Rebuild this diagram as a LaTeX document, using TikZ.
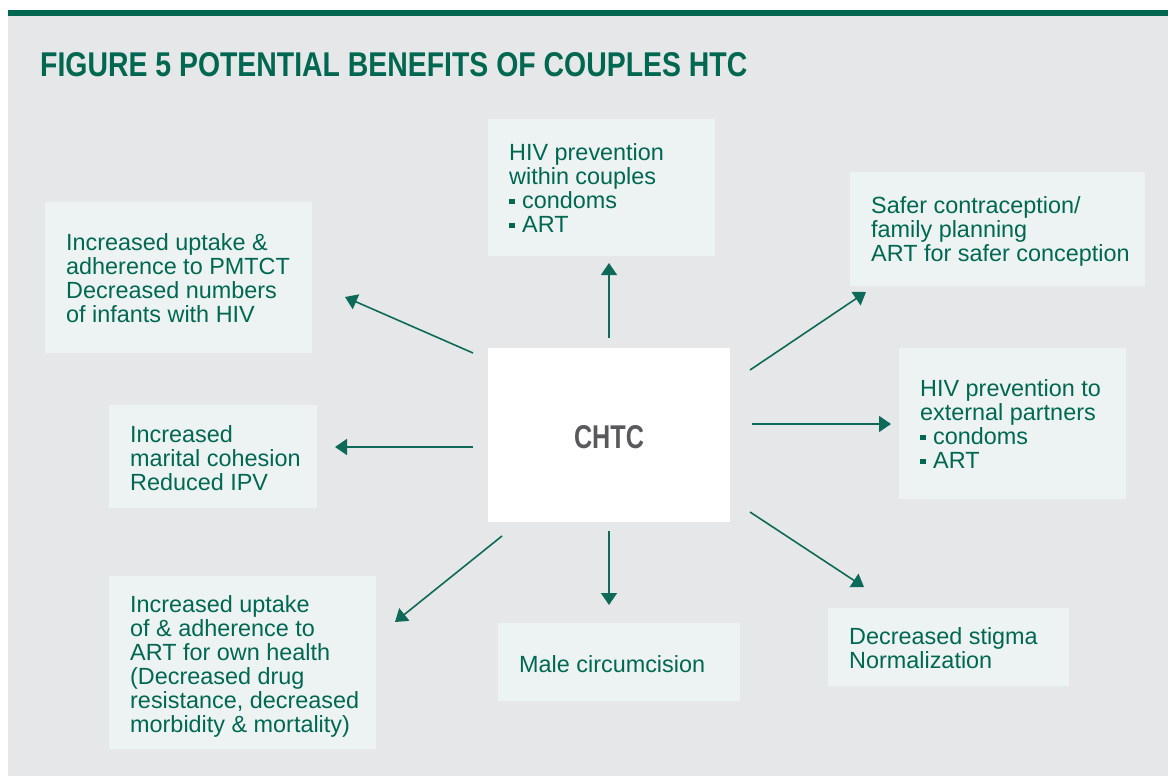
\documentclass[tikz,border=0pt]{standalone}
\usepackage{fontspec}
\usepackage{graphicx}
\setmainfont{Liberation Sans}
\usetikzlibrary{arrows.meta}
\definecolor{bggray}{RGB}{230,231,232}
\definecolor{boxfill}{RGB}{237,242,242}
\definecolor{tgreen}{RGB}{0,104,82}
\definecolor{titlegreen}{RGB}{0,103,80}
\definecolor{argreen}{RGB}{14,106,88}
\definecolor{chtcgray}{RGB}{88,89,91}
\newcommand{\bul}{\textcolor{tgreen}{\rule[4pt]{5.5pt}{5.5pt}}\hspace{7.5pt}}
\begin{document}
\begin{tikzpicture}[x=1pt,y=-1pt,
  box/.style={fill=boxfill, draw=none, anchor=north west, inner sep=0pt},
  txt/.style={anchor=base west, align=left, inner sep=0pt, text=tgreen,
    font=\fontsize{23.4}{24}\selectfont},
  arr/.style={draw=argreen, line width=1.6pt, -{Triangle[length=12pt,width=16pt]}}]
\useasboundingbox (0,0) rectangle (1168,776);
\fill[white] (0,0) rectangle (1168,776);
\fill[bggray] (8,16) rectangle (1168,776);
\fill[titlegreen] (8,10) rectangle (1168,16);
\node[anchor=north west, inner sep=0pt, text=titlegreen] (title) at (40,52)
  {\resizebox{707pt}{24pt}{\bfseries FIGURE 5 POTENTIAL BENEFITS OF COUPLES HTC}};
% boxes
\node[box, minimum width=227pt, minimum height=137pt] (b1) at (488,119) {};
\node[box, minimum width=267pt, minimum height=151pt] (b2) at (45,202) {};
\node[box, minimum width=295pt, minimum height=114pt] (b3) at (850,172) {};
\node[box, minimum width=227pt, minimum height=151pt] (b4) at (899,348) {};
\node[box, minimum width=208pt, minimum height=103pt] (b5) at (109,405) {};
\node[box, minimum width=267pt, minimum height=173pt] (b7) at (109,576) {};
\node[box, minimum width=242pt, minimum height=78pt] (b8) at (498,623) {};
\node[box, minimum width=241pt, minimum height=78pt] (b9) at (828,608) {};
\node[fill=white, anchor=north west, inner sep=0pt, minimum width=242pt, minimum height=174pt] (ctr) at (488,348) {};
\node[inner sep=0pt, text=chtcgray] (chtc) at (609,437) {\resizebox{70pt}{23pt}{\bfseries CHTC}};
% texts (anchored at the baseline of the last line)
\node[txt] (t1) at (509,232) {HIV prevention\\within couples\\\bul condoms\\\bul ART};
\node[txt] (t2) at (66,322) {Increased uptake \&\\adherence to PMTCT\\Decreased numbers\\of infants with HIV};
\node[txt] (t3) at (871,261) {Safer contraception/\\family planning\\ART for safer conception};
\node[txt] (t4) at (920,468) {HIV prevention to\\external partners\\\bul condoms\\\bul ART};
\node[txt] (t5) at (130,490) {Increased\\marital cohesion\\Reduced IPV};
\node[txt] (t7) at (130,732) {Increased uptake\\of \& adherence to\\ART for own health\\(Decreased drug\\resistance, decreased\\morbidity \& mortality)};
\node[txt] (t8) at (519,672) {Male circumcision};
\node[txt] (t9) at (849,668) {Decreased stigma\\Normalization};
% arrow ends
\coordinate (aUs) at (609,338); \coordinate (aUe) at (609,263);
\coordinate (aULs) at (473,353); \coordinate (aULe) at (345,297);
\coordinate (aLs) at (473,447); \coordinate (aLe) at (335,447);
\coordinate (aURs) at (750,370); \coordinate (aURe) at (866,292);
\coordinate (aRs) at (752,424); \coordinate (aRe) at (891,424);
\coordinate (aLRs) at (750,512); \coordinate (aLRe) at (864,587);
\coordinate (aDs) at (609,531); \coordinate (aDe) at (609,605);
\coordinate (aLLs) at (502,536); \coordinate (aLLe) at (395,622);
\draw[arr] (aUs) -- (aUe);
\draw[arr] (aULs) -- (aULe);
\draw[arr] (aLs) -- (aLe);
\draw[arr] (aURs) -- (aURe);
\draw[arr] (aRs) -- (aRe);
\draw[arr] (aLRs) -- (aLRe);
\draw[arr] (aDs) -- (aDe);
\draw[arr] (aLLs) -- (aLLe);
\end{tikzpicture}
\end{document}
